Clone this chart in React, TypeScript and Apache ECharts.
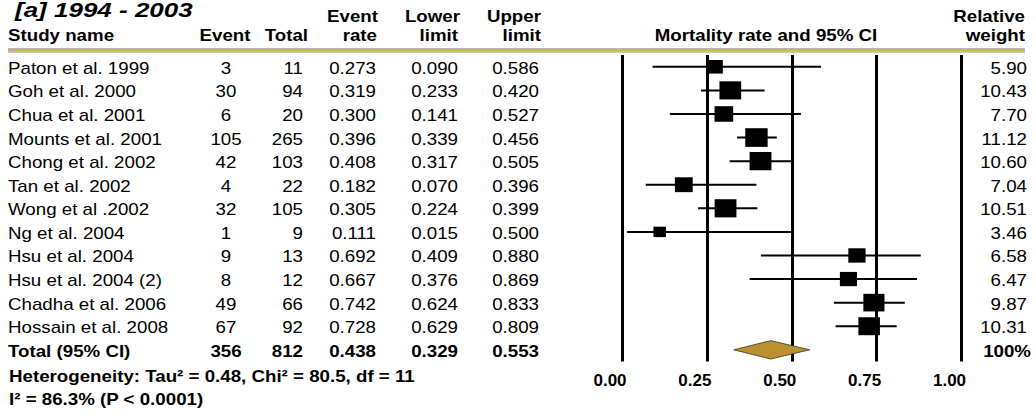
import React, { useEffect, useRef } from "react";
import * as echarts from "echarts";

const studies = [
  "Paton et al. 1999",
  "Goh et al. 2000",
  "Chua et al. 2001",
  "Mounts et al. 2001",
  "Chong et al. 2002",
  "Tan et al. 2002",
  "Wong et al .2002",
  "Ng et al. 2004",
  "Hsu et al. 2004",
  "Hsu et al. 2004 (2)",
  "Chadha et al. 2006",
  "Hossain et al. 2008",
];
const events = [3, 30, 6, 105, 42, 4, 32, 1, 9, 8, 49, 67];
const totals = [11, 94, 20, 265, 103, 22, 105, 9, 13, 12, 66, 92];
const rates = [0.273, 0.319, 0.3, 0.396, 0.408, 0.182, 0.305, 0.111, 0.692, 0.667, 0.742, 0.728];
const lowers = [0.09, 0.233, 0.141, 0.339, 0.317, 0.07, 0.224, 0.015, 0.409, 0.376, 0.624, 0.629];
const uppers = [0.586, 0.42, 0.527, 0.456, 0.505, 0.396, 0.399, 0.5, 0.88, 0.869, 0.833, 0.809];
const weights = [5.9, 10.43, 7.7, 11.12, 10.6, 7.04, 10.51, 3.46, 6.58, 6.47, 9.87, 10.31];

const totalLabel = "Total (95% CI)";
const totalEvents = 356;
const totalN = 812;
const totalRate = 0.438;
const totalLower = 0.329;
const totalUpper = 0.553;
const totalWeight = "100%";

const xTicks = [0, 0.25, 0.5, 0.75, 1];
const titleText = "[a] 1994 - 2003";
const heterogeneityText = "Heterogeneity: Tau\u00B2 = 0.48, Chi\u00B2 = 80.5, df = 11";
const i2Text = "I\u00B2 = 86.3% (P < 0.0001)";

const FONT = "'Liberation Sans', Arial, Helvetica, sans-serif";
const SX = 1.17;

const categories = [...studies, totalLabel];

export default function App() {
  const ref = useRef<HTMLDivElement>(null);

  useEffect(() => {
    if (!ref.current) return;
    const chart = echarts.init(ref.current, undefined, { renderer: "svg" });

    const rowText = (i: number) => {
      const isTotal = i === studies.length;
      return {
        bold: isTotal,
        cells: [
          { x: 8, align: "left", t: categories[i] },
          { x: 226, align: "center", t: String(isTotal ? totalEvents : events[i]) },
          { x: 303, align: "right", t: String(isTotal ? totalN : totals[i]) },
          { x: 376, align: "right", t: (isTotal ? totalRate : rates[i]).toFixed(3) },
          { x: 458, align: "right", t: (isTotal ? totalLower : lowers[i]).toFixed(3) },
          { x: 539, align: "right", t: (isTotal ? totalUpper : uppers[i]).toFixed(3) },
          { x: isTotal ? 1031 : 1027, align: "right", t: isTotal ? totalWeight : weights[i].toFixed(2) },
        ],
      };
    };

    const txt = (
      text: string,
      x: number,
      y: number,
      align: string,
      bold: boolean,
      size = 16,
      italic = false,
      sx = SX
    ) => ({
      type: "text",
      x,
      y,
      scaleX: sx,
      silent: true,
      style: {
        text,
        fill: "#000",
        fontSize: size,
        fontFamily: FONT,
        fontWeight: bold ? "bold" : "normal",
        fontStyle: italic ? "italic" : "normal",
        align,
        verticalAlign: "middle",
      },
    });

    const option: any = {
      animation: false,
      backgroundColor: "#fff",
      grid: { left: 622, top: 55, width: 339.5, height: 306.6 },
      xAxis: {
        type: "value",
        min: 0,
        max: 1,
        interval: 0.25,
        axisLine: { show: false },
        axisTick: { show: false },
        splitLine: { show: true, lineStyle: { color: "#000", width: 3 } },
        axisLabel: {
          fontSize: 17,
          fontWeight: "bold",
          fontFamily: FONT,
          color: "#000",
          margin: 10,
          padding: [0, 24, 0, 0],
          customValues: xTicks,
          formatter: (v: number) => v.toFixed(2),
        },
      },
      yAxis: {
        type: "category",
        data: categories,
        inverse: true,
        show: false,
      },
      series: [
        {
          type: "custom",
          name: "ci",
          z: 2,
          silent: true,
          clip: false,
          encode: { x: [0, 1], y: 2 },
          data: studies.map((_, i) => [lowers[i], uppers[i], i]),
          renderItem: (params: any, api: any) => {
            const p1 = api.coord([api.value(0), api.value(2)]);
            const p2 = api.coord([api.value(1), api.value(2)]);
            return {
              type: "line",
              shape: { x1: p1[0], y1: p1[1], x2: p2[0], y2: p2[1] },
              style: { stroke: "#000", lineWidth: 2 },
            };
          },
        },
        {
          type: "scatter",
          name: "rate",
          z: 3,
          silent: true,
          symbol: "rect",
          symbolSize: (val: number[]) => {
            const h = 5.6 * Math.sqrt(val[2]);
            return [h * 1.2, h];
          },
          itemStyle: { color: "#000", opacity: 1 },
          data: studies.map((_, i) => [rates[i], i, weights[i]]),
        },
        {
          type: "custom",
          name: "total",
          z: 3,
          silent: true,
          clip: false,
          encode: { x: [0, 1, 2], y: 3 },
          data: [[totalRate, totalLower, totalUpper, studies.length]],
          renderItem: (params: any, api: any) => {
            const c = api.coord([api.value(0), api.value(3)]);
            const l = api.coord([api.value(1), api.value(3)]);
            const r = api.coord([api.value(2), api.value(3)]);
            const h = api.size([0, 1])[1] * 0.39;
            return {
              type: "polygon",
              shape: {
                points: [
                  [l[0], c[1]],
                  [c[0], c[1] - h],
                  [r[0], c[1]],
                  [c[0], c[1] + h],
                ],
              },
              style: { fill: "#B8902C", stroke: "#3a3324", lineWidth: 0.8 },
            };
          },
        },
        {
          type: "custom",
          name: "table",
          z: 4,
          silent: true,
          clip: false,
          encode: { x: 0, y: 1 },
          data: categories.map((_, i) => [0, i]),
          renderItem: (params: any, api: any) => {
            const i = params.dataIndex;
            const y = api.coord([0, i])[1] + 1.5;
            const row = rowText(i);
            return {
              type: "group",
              children: row.cells.map((c) => txt(c.t, c.x, y, c.align, row.bold)),
            };
          },
        },
      ],
      graphic: [
        txt(titleText, 15, 10, "left", true, 20, true, 1.3),
        txt("Event", 378, 16, "right", true),
        txt("Lower", 460, 16, "right", true),
        txt("Upper", 541, 16, "right", true),
        txt("Relative", 1025, 16, "right", true),
        txt("Study name", 8, 35, "left", true),
        txt("Event", 225, 35, "center", true),
        txt("Total", 308, 35, "right", true),
        txt("rate", 377, 35, "right", true),
        txt("limit", 458, 35, "right", true),
        txt("limit", 541, 35, "right", true),
        txt("Mortality rate and 95% CI", 766, 35, "center", true),
        txt("weight", 1025, 35, "right", true),
        {
          type: "line",
          silent: true,
          shape: { x1: 8, y1: 49, x2: 1025, y2: 49 },
          style: { stroke: "#6b6b6b", lineWidth: 1 },
        },
        {
          type: "line",
          silent: true,
          shape: { x1: 8, y1: 50.5, x2: 1025, y2: 50.5 },
          style: { stroke: "#D8B54A", lineWidth: 1.5 },
        },
        {
          type: "line",
          silent: true,
          shape: { x1: 8, y1: 52, x2: 1025, y2: 52 },
          style: { stroke: "#8a8a8a", lineWidth: 1 },
        },
        txt(heterogeneityText, 9, 376, "left", true),
        txt(i2Text, 9, 399, "left", true),
      ],
    };

    chart.setOption(option);
    return () => chart.dispose();
  }, []);

  return (
    <div
      ref={ref}
      style={{ position: "absolute", left: 0, top: 0, width: 1036, height: 416, background: "#fff" }}
    />
  );
}
